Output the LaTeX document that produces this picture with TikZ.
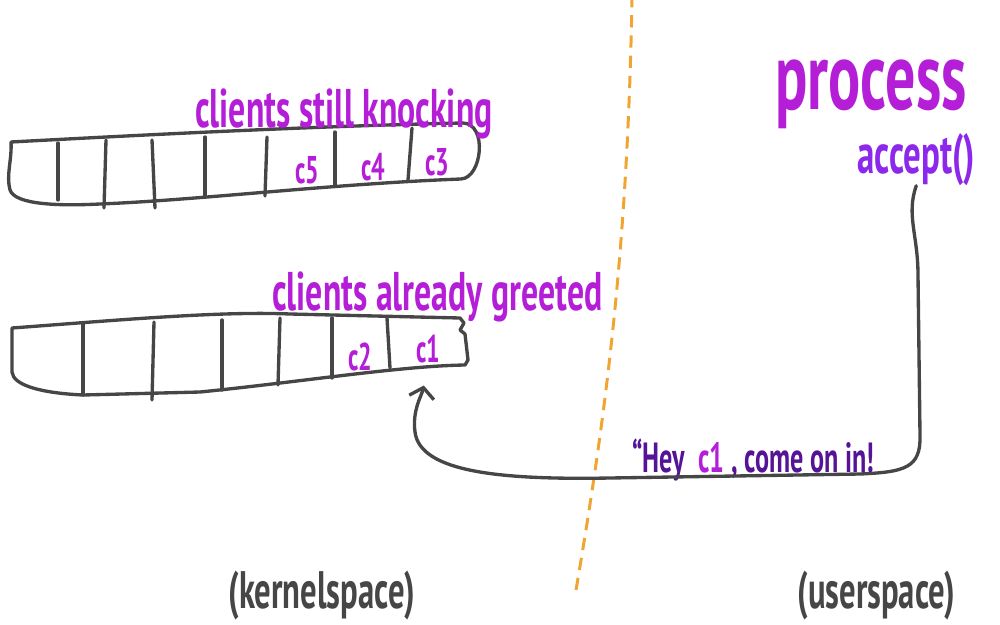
\documentclass[tikz,border=0pt]{standalone}
\usepackage{fontspec}
\setmainfont{PT Sans}
\usepackage{xcolor}
\usepackage{tikz}
\usetikzlibrary{positioning}
\usetikzlibrary{arrows.meta}
\definecolor{magentaink}{RGB}{180,30,215}
\definecolor{violetink}{RGB}{140,40,235}
\definecolor{heyink}{RGB}{85,20,150}
\definecolor{penink}{RGB}{70,70,70}
\definecolor{splitorange}{RGB}{240,165,50}
\newcommand{\narrow}[1]{\scalebox{0.62}[1]{#1}}

\begin{document}
\begin{tikzpicture}[
    x=0.02cm, y=-0.02cm,
    pen/.style={draw=penink, line width=1.9pt, line join=round, line cap=round},
    tag/.style={inner sep=0pt, text=magentaink},
    slot/.style={tag, anchor=base, font=\fontsize{22}{24}\selectfont\bfseries},
    arrow/.style={pen, -{Straight Barb[length=2mm, width=5mm]}, shorten >=0.46cm},
    split/.style={draw=splitorange, line width=1.7pt, dash pattern=on 7pt off 4.5pt}
]
    \useasboundingbox (0,0) rectangle (1000,625);

    % Kernel/user split
    \draw[split] (632,-5) .. controls (628,250) and (605,420) .. (576,590);

    % Queue of clients still knocking
    \draw[pen] (11,142) .. controls (160,134) and (320,126) .. (463,123)
        .. controls (488,124) and (482,178) .. (461,179)
        .. controls (330,184) and (200,200) .. (100,204)
        .. controls (60,206) and (15,205) .. (10,190)
        .. controls (6,175) and (12,160) .. cycle;
    \foreach \xt/\xb/\yt/\yb in {58/58/143/200, 106/104/140/208, 152/155/140/208,
                                 205/205/137/197, 267/265/137/196, 335/335/132/185,
                                 412/408/128/180}
        \draw[pen] (\xt,\yt) -- (\xb,\yb);
    \node[slot] (c5) at (307,183) {\narrow{c5}};
    \node[slot] (c4) at (373,180) {\narrow{c4}};
    \node[slot] (c3) at (437,175) {\narrow{c3}};
    \node[tag, anchor=base west, font=\fontsize{31}{33}\selectfont\bfseries] (knocking) at (195,128) {\narrow{clients still knocking}};

    % Queue of clients already greeted
    \draw[pen] (12,328) .. controls (120,320) and (220,311) .. (290,314)
        -- (460,318) -- (464,323) -- (460,330) -- (465,334) -- (468,360) -- (465,365)
        .. controls (400,366) and (300,382) .. (200,392)
        -- (83,395) .. controls (40,393) and (13,385) .. (12,372) -- cycle;
    \foreach \xt/\xb/\yt/\yb in {83/83/323/395, 154/152/322/400, 222/222/320/390,
                                 280/278/318/385, 332/332/318/378, 387/390/318/368}
        \draw[pen] (\xt,\yt) -- (\xb,\yb);
    \node[slot] (c2) at (360,370) {\narrow{c2}};
    \node[slot] (c1) at (428,362) {\narrow{c1}};
    \node[tag, anchor=base west, font=\fontsize{31}{33}\selectfont\bfseries] (greeted) at (272,310) {\narrow{clients already greeted}};

    % Userspace process
    \node[tag, anchor=base west, font=\fontsize{55}{57}\selectfont\bfseries] (process) at (775,110) {\narrow{process}};
    \node[tag, anchor=base west, text=violetink, font=\fontsize{32}{34}\selectfont\bfseries] (accept) at (857,173) {\narrow{accept()}};
    \node[tag, anchor=base west, text=heyink, font=\fontsize{24}{26}\selectfont\bfseries] (hey) at (632,472)
        {\narrow{“Hey~~\textcolor{magentaink}{c1}~, come on in!}};

    \draw[arrow] (accept.south) .. controls (906,215) and (918,235) .. (918,275)
        -- (920,435) .. controls (921,468) and (905,472) .. (860,474)
        -- (610,478) .. controls (500,480) and (420,472) .. (415,432)
        .. controls (412,410) and (422,395) .. (c1.south);

    % Bottom captions
    \node[tag, anchor=base west, text=penink, font=\fontsize{30}{32}\selectfont\bfseries] (kernel) at (228,608) {\narrow{(kernelspace)}};
    \node[tag, anchor=base west, text=penink, font=\fontsize{30}{32}\selectfont\bfseries] (user) at (797,608) {\narrow{(userspace)}};
\end{tikzpicture}
\end{document}
